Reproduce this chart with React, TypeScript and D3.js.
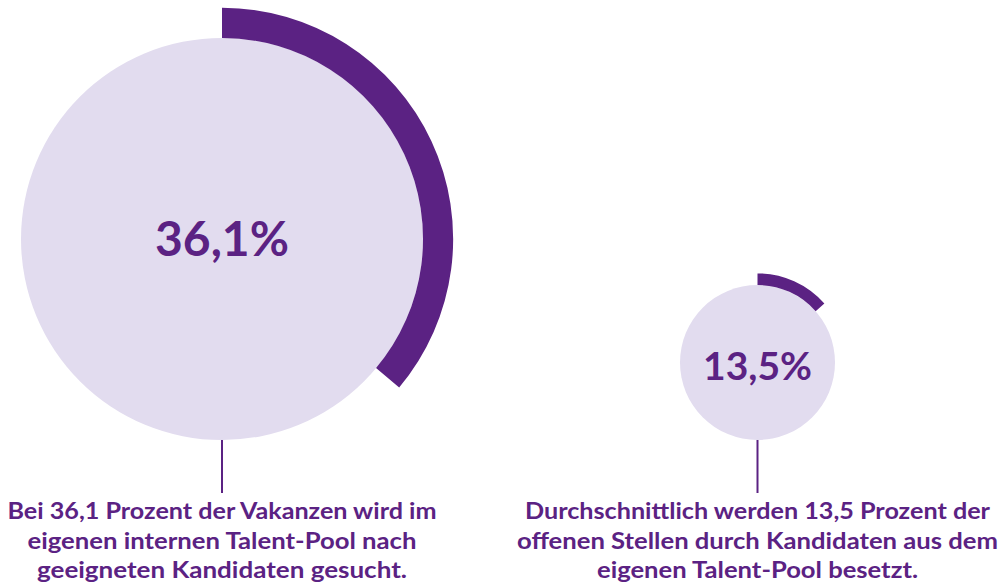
import React from "react";
import * as d3 from "d3";

const values = [36.1, 13.5];
const valueLabels = ["36,1%", "13,5%"];
const captions = [
  ["Bei 36,1 Prozent der Vakanzen wird im", "eigenen internen Talent-Pool nach", "geeigneten Kandidaten gesucht."],
  ["Durchschnittlich werden 13,5 Prozent der", "offenen Stellen durch Kandidaten aus dem", "eigenen Talent-Pool besetzt."],
];
const captionWidths = [
  [429, 389, 370],
  [465, 481, 321],
];

const W = 1004;
const H = 582;
const DARK = "#5b2283";
const LIGHT = "#e2dcef";
const FONT = "Lato, 'Noto Sans', sans-serif";

export default function App() {
  const x = d3.scalePoint<number>().domain([0, 1]).range([222, 757.5]);
  const r = d3.scaleLinear().domain([13.5, 36.1]).range([77.5, 201]);
  const baseY = 440;
  const labelSize = d3.scaleLinear().domain([13.5, 36.1]).range([38, 47]);
  const labelWidth = d3.scaleLinear().domain([13.5, 36.1]).range([109, 134]);

  return (
    <svg
      width={W}
      height={H}
      style={{ position: "absolute", left: 0, top: 0, background: "#fff" }}
    >
      {values.map((v, i) => {
        const cx = x(i)!;
        const rad = r(v);
        const cy = baseY - rad;
        const arc = d3
          .arc()
          .innerRadius(rad)
          .outerRadius(rad * 1.15)
          .startAngle(0)
          .endAngle((v / 100) * 2 * Math.PI);
        const fs = labelSize(v);
        return (
          <g key={i}>
            <circle cx={cx} cy={cy} r={rad} fill={LIGHT} />
            <path d={arc({} as any) || ""} transform={`translate(${cx},${cy})`} fill={DARK} />
            <text
              x={cx}
              y={cy + 17}
              textAnchor="middle"
              fontFamily={FONT}
              fontWeight={700}
              fontSize={fs}
              fill={DARK}
              textLength={labelWidth(v)}
              lengthAdjust="spacingAndGlyphs"
            >
              {valueLabels[i]}
            </text>
            <line x1={cx} x2={cx} y1={baseY} y2={493} stroke={DARK} strokeWidth={2} />
            {captions[i].map((line, j) => (
              <text
                key={j}
                x={cx}
                y={519 + j * 29.5}
                textAnchor="middle"
                fontFamily={FONT}
                fontWeight={700}
                fontSize={22.5}
                fill={DARK}
                textLength={captionWidths[i][j]}
                lengthAdjust="spacingAndGlyphs"
              >
                {line}
              </text>
            ))}
          </g>
        );
      })}
    </svg>
  );
}
